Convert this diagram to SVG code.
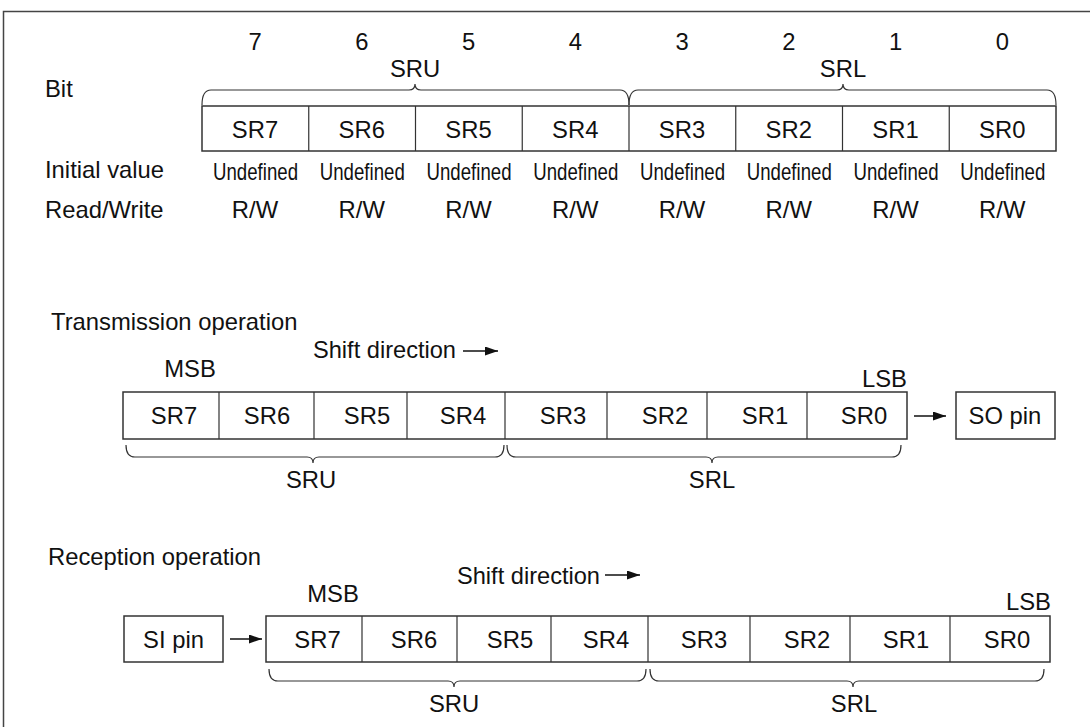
<svg xmlns="http://www.w3.org/2000/svg" width="1090" height="727" viewBox="0 0 1090 727">
<style>
text{font-family:"Liberation Sans",Arial,sans-serif;font-size:23.8px;fill:#111}
.c{text-anchor:middle}
.box{fill:#fff;stroke:#333;stroke-width:1.5}
.div{stroke:#333;stroke-width:1.2}
.brace{fill:none;stroke:#333;stroke-width:1.2}
.ln{stroke:#111;stroke-width:1.5;fill:none}
</style>
<defs>
<marker id="ah" markerUnits="userSpaceOnUse" markerWidth="14" markerHeight="10" refX="13" refY="4.5" orient="auto"><path d="M0,0 L13,4.5 L0,9 z" fill="#111"/></marker>
</defs>
<rect width="1090" height="727" fill="#fff"/>
<path d="M3.5,727 V11.5 H1090" fill="none" stroke="#444" stroke-width="1.5"/>

<g id="bit-register">
<text x="45" y="97">Bit</text>
<text x="45" y="178">Initial value</text>
<text x="45" y="218">Read/Write</text>
<g class="c">
<text x="255" y="50">7</text><text x="361.75" y="50">6</text><text x="468.5" y="50">5</text><text x="575.25" y="50">4</text>
<text x="682" y="50">3</text><text x="788.75" y="50">2</text><text x="895.5" y="50">1</text><text x="1002.25" y="50">0</text>
<text x="415" y="77">SRU</text><text x="843" y="77">SRL</text>
</g>
<path class="brace" d="M202,105 Q202,90 211,90 L409,90 Q415,90 415,84 Q415,90 421,90 L620,90 Q629,90 629,105"/>
<path class="brace" d="M629,105 Q629,90 638,90 L837,90 Q843,90 843,84 Q843,90 849,90 L1047,90 Q1056,90 1056,105"/>
<rect class="box" x="202" y="106" width="854" height="45"/>
<path class="div" d="M308.75,106V151M415.5,106V151M522.25,106V151M629,106V151M735.75,106V151M842.5,106V151M949.25,106V151"/>
<g class="c">
<text x="255" y="138">SR7</text><text x="361.75" y="138">SR6</text><text x="468.5" y="138">SR5</text><text x="575.25" y="138">SR4</text>
<text x="682" y="138">SR3</text><text x="788.75" y="138">SR2</text><text x="895.5" y="138">SR1</text><text x="1002.25" y="138">SR0</text>
</g>
<g class="c">
<text x="255.5" y="180" textLength="85" lengthAdjust="spacingAndGlyphs">Undefined</text>
<text x="362.25" y="180" textLength="85" lengthAdjust="spacingAndGlyphs">Undefined</text>
<text x="469" y="180" textLength="85" lengthAdjust="spacingAndGlyphs">Undefined</text>
<text x="575.75" y="180" textLength="85" lengthAdjust="spacingAndGlyphs">Undefined</text>
<text x="682.5" y="180" textLength="85" lengthAdjust="spacingAndGlyphs">Undefined</text>
<text x="789.25" y="180" textLength="85" lengthAdjust="spacingAndGlyphs">Undefined</text>
<text x="896" y="180" textLength="85" lengthAdjust="spacingAndGlyphs">Undefined</text>
<text x="1002.75" y="180" textLength="85" lengthAdjust="spacingAndGlyphs">Undefined</text>
</g>
<g class="c">
<text x="255" y="218">R/W</text><text x="361.75" y="218">R/W</text><text x="468.5" y="218">R/W</text><text x="575.25" y="218">R/W</text>
<text x="682" y="218">R/W</text><text x="788.75" y="218">R/W</text><text x="895.5" y="218">R/W</text><text x="1002.25" y="218">R/W</text>
</g>
</g>

<g id="transmission">
<text x="51" y="330">Transmission operation</text>
<text x="313" y="358" textLength="143" lengthAdjust="spacingAndGlyphs">Shift direction</text>
<text x="190" y="377" class="c">MSB</text>
<text x="907" y="387" text-anchor="end">LSB</text>
<rect class="box" x="123" y="392" width="784" height="47"/>
<path class="div" d="M219,392V439M314,392V439M407,392V439M505,392V439M607,392V439M707,392V439M807,392V439"/>
<g class="c">
<text x="174" y="424">SR7</text><text x="267" y="424">SR6</text><text x="367" y="424">SR5</text><text x="463" y="424">SR4</text>
<text x="563" y="424">SR3</text><text x="665" y="424">SR2</text><text x="765" y="424">SR1</text><text x="864" y="424">SR0</text>
</g>
<path class="brace" d="M126,445 Q126,457 135,457 L307,457 Q313,457 313,463 Q313,457 319,457 L495,457 Q504,457 504,445"/>
<path class="brace" d="M507,445 Q507,457 516,457 L706,457 Q712,457 712,463 Q712,457 718,457 L892,457 Q901,457 901,445"/>
<text x="311" y="488" class="c">SRU</text>
<text x="712" y="488" class="c">SRL</text>
</g>
<g id="so-pin">
<rect class="box" x="956" y="392" width="99" height="47"/>
<text x="1005" y="424" class="c">SO pin</text>
</g>

<g id="reception">
<text x="48" y="565">Reception operation</text>
<text x="457" y="584" textLength="143" lengthAdjust="spacingAndGlyphs">Shift direction</text>
<text x="333" y="602" class="c">MSB</text>
<text x="1051" y="610" text-anchor="end">LSB</text>
<rect class="box" x="266" y="616" width="784" height="46"/>
<path class="div" d="M362,616V662M457,616V662M551,616V662M648,616V662M750,616V662M850,616V662M950,616V662"/>
<g class="c">
<text x="317.5" y="648">SR7</text><text x="414" y="648">SR6</text><text x="510" y="648">SR5</text><text x="606" y="648">SR4</text>
<text x="704" y="648">SR3</text><text x="807" y="648">SR2</text><text x="906" y="648">SR1</text><text x="1007" y="648">SR0</text>
</g>
<path class="brace" d="M269,669 Q269,681 278,681 L448,681 Q454,681 454,687 Q454,681 460,681 L637,681 Q646,681 646,669"/>
<path class="brace" d="M650,669 Q650,681 659,681 L847,681 Q853,681 853,687 Q853,681 859,681 L1035,681 Q1044,681 1044,669"/>
<text x="454" y="712" class="c">SRU</text>
<text x="854" y="712" class="c">SRL</text>
</g>
<g id="si-pin">
<rect class="box" x="124" y="616" width="99" height="46"/>
<text x="173.5" y="648" class="c">SI pin</text>
</g>

<g id="connectors">
<line class="ln" x1="463" y1="351" x2="498" y2="351" marker-end="url(#ah)"/>
<line class="ln" x1="914" y1="416" x2="946" y2="416" marker-end="url(#ah)"/>
<line class="ln" x1="605" y1="575" x2="640" y2="575" marker-end="url(#ah)"/>
<line class="ln" x1="230" y1="639" x2="262" y2="639" marker-end="url(#ah)"/>
</g>
</svg>
